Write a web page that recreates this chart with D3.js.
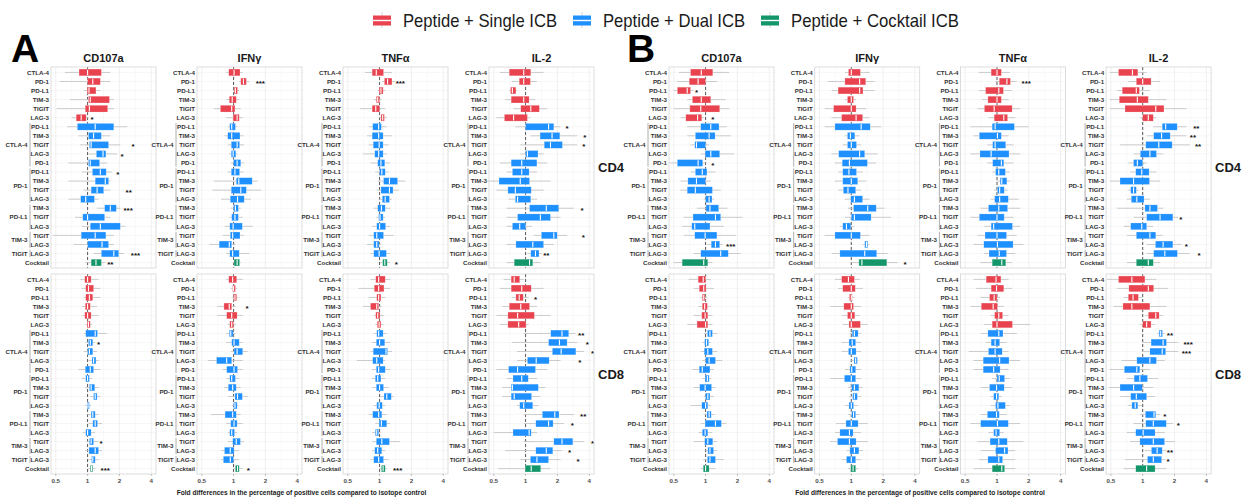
<!DOCTYPE html>
<html><head><meta charset="utf-8">
<script src="https://cdn.jsdelivr.net/npm/d3@7"></script>
<style>body{margin:0;background:#fff;}svg{display:block;}</style>
</head><body><svg id="chart" width="1251" height="498"></svg>
<script>
// ---------------- data ----------------
const figures = ["A", "B"];
const cells = ["CD4", "CD8"];
const markers = ["CD107a", "IFNγ", "TNFα", "IL-2"];
const markerKeys = ["CD107a", "IFNg", "TNFa", "IL2"];
const rowLabels = ["CTLA-4","PD-1","PD-L1","TIM-3","TIGIT","LAG-3",
  "PD-L1","TIM-3","TIGIT","LAG-3","PD-1",
  "PD-L1","TIM-3","TIGIT","LAG-3",
  "TIM-3","TIGIT","LAG-3",
  "TIGIT","LAG-3",
  "LAG-3","Cocktail"];
const rowTreatment = ["Single","Single","Single","Single","Single","Single",
  "Dual","Dual","Dual","Dual","Dual","Dual","Dual","Dual","Dual","Dual","Dual","Dual","Dual","Dual","Dual","Cocktail"];
const groupNames = ["CTLA-4", "PD-1", "PD-L1", "TIM-3", "TIGIT"];
const groupFirstRow = [6, 11, 15, 18, 20];
const groupLastRow = [10, 14, 17, 19, 20];
const xTicks = [0.5, 1, 2, 4];
const legendLabels = ["Peptide + Single ICB", "Peptide + Dual ICB", "Peptide + Cocktail ICB"];
const xTitle = "Fold differences in the percentage of positive cells compared to isotope control";

// each row: [lower whisker, Q1, median, Q3, upper whisker] (fold change)
const A_CD4_CD107a = [[0.61,0.83,1.00,1.35,1.64],[0.55,1.00,1.12,1.32,1.64],[0.92,0.99,1.03,1.20,1.32],[0.68,1.02,1.06,1.61,1.77],[0.51,0.95,1.04,1.55,1.77],[0.71,0.78,0.87,0.97,1.02],[0.64,0.80,1.18,1.77,2.37],[0.82,1.02,1.14,1.35,1.64],[0.85,1.04,1.08,1.58,2.04],[1.02,1.21,1.40,1.49,1.90],[0.66,1.02,1.06,1.30,1.53],[0.88,1.11,1.32,1.50,1.70],[0.66,1.18,1.47,1.58,1.64],[0.92,1.08,1.23,1.42,1.64],[0.66,0.86,0.96,1.16,1.27],[1.23,1.45,1.64,1.87,2.04],[0.76,0.90,1.00,1.45,1.64],[0.88,1.06,1.32,2.04,2.28],[0.47,0.87,1.18,1.49,1.77],[0.74,1.00,1.37,1.58,1.77],[1.14,1.35,1.77,1.97,2.20],[0.95,1.08,1.20,1.35,1.47]];
const A_CD8_CD107a = [[0.85,0.94,1.00,1.08,1.27],[0.88,0.96,1.02,1.14,1.32],[0.92,0.96,1.04,1.12,1.32],[0.88,0.95,1.00,1.06,1.23],[0.88,0.94,1.00,1.08,1.27],[0.95,0.99,1.02,1.06,1.10],[0.92,0.96,1.18,1.24,1.53],[0.95,1.02,1.06,1.12,1.18],[0.92,1.00,1.04,1.12,1.23],[1.02,1.10,1.14,1.20,1.27],[0.82,0.95,1.06,1.14,1.32],[0.88,0.96,1.00,1.04,1.10],[0.95,1.04,1.08,1.17,1.27],[1.06,1.14,1.18,1.23,1.32],[0.95,0.99,1.01,1.04,1.08],[1.00,1.08,1.12,1.18,1.27],[1.02,1.12,1.18,1.24,1.37],[0.90,0.96,1.00,1.08,1.18],[0.97,1.04,1.08,1.14,1.27],[0.95,1.03,1.18,1.27,1.37],[1.02,1.09,1.12,1.18,1.27],[1.02,1.06,1.09,1.12,1.18]];
const A_CD4_IFNg = [[0.85,0.90,1.01,1.15,1.22],[1.13,1.17,1.24,1.32,1.41],[0.98,1.01,1.04,1.09,1.13],[0.85,0.91,0.97,1.06,1.13],[0.65,0.75,0.96,1.03,1.17],[0.85,0.99,1.08,1.13,1.22],[0.88,0.92,0.96,1.04,1.09],[0.82,0.88,0.96,1.15,1.24],[0.88,0.95,1.08,1.14,1.26],[0.91,0.95,0.99,1.05,1.09],[0.94,1.00,1.08,1.17,1.26],[0.88,0.95,1.03,1.14,1.24],[0.65,1.06,1.12,1.50,1.69],[0.63,0.95,1.17,1.32,1.82],[0.76,0.93,1.09,1.26,1.46],[0.94,1.00,1.04,1.11,1.17],[0.91,0.96,1.03,1.11,1.22],[0.82,0.92,0.99,1.21,1.52],[0.79,0.93,0.98,1.15,1.26],[0.59,0.73,0.91,0.96,1.05],[0.85,0.92,0.98,1.13,1.41],[0.98,1.01,1.08,1.14,1.17]];
const A_CD8_IFNg = [[0.85,0.90,0.98,1.07,1.22],[0.94,0.98,1.00,1.04,1.08],[0.96,1.00,1.03,1.07,1.11],[0.70,0.81,0.91,0.96,1.05],[0.70,0.86,0.96,1.08,1.22],[0.88,0.92,0.96,1.00,1.05],[0.85,0.91,0.94,0.99,1.05],[0.85,0.96,1.01,1.13,1.22],[0.94,1.01,1.08,1.22,1.36],[0.57,0.69,0.86,0.96,1.22],[0.79,0.86,1.01,1.09,1.22],[0.85,0.92,0.96,1.04,1.13],[0.82,0.89,0.98,1.06,1.17],[0.88,1.03,1.09,1.21,1.36],[0.96,1.00,1.03,1.08,1.11],[0.61,0.83,0.98,1.06,1.17],[0.85,0.94,1.01,1.08,1.22],[0.88,0.92,0.96,1.02,1.08],[0.88,0.98,1.06,1.16,1.26],[0.76,0.82,0.93,1.01,1.13],[0.76,0.80,0.93,1.00,1.13],[1.01,1.04,1.09,1.13,1.22]];
const A_CD4_TNFa = [[0.73,0.85,0.93,1.09,1.31],[1.05,1.11,1.19,1.31,1.41],[0.96,0.99,1.03,1.08,1.13],[0.88,0.93,0.96,1.00,1.05],[0.65,0.85,0.92,1.00,1.13],[0.98,1.03,1.07,1.11,1.17],[0.79,0.86,0.98,1.04,1.17],[0.76,0.85,0.98,1.08,1.31],[0.79,0.87,0.99,1.08,1.22],[0.70,0.90,0.98,1.08,1.17],[0.82,0.96,1.03,1.12,1.26],[0.91,1.00,1.05,1.13,1.22],[0.96,1.09,1.24,1.48,1.75],[0.94,1.03,1.24,1.34,1.52],[0.98,1.06,1.13,1.24,1.31],[0.88,0.96,1.04,1.13,1.26],[0.93,0.98,1.01,1.08,1.13],[0.85,0.94,1.00,1.14,1.26],[0.79,0.88,0.94,1.09,1.36],[0.76,0.88,0.94,0.99,1.03],[0.82,0.88,0.99,1.16,1.26],[1.01,1.07,1.12,1.18,1.26]];
const A_CD8_TNFa = [[0.82,0.92,0.98,1.13,1.26],[0.63,0.89,0.98,1.10,1.26],[0.79,0.94,0.98,1.03,1.13],[0.70,0.82,0.94,0.98,1.05],[0.88,0.92,0.96,1.01,1.09],[0.91,0.95,0.99,1.03,1.09],[0.88,0.94,0.98,1.08,1.17],[0.85,0.93,1.00,1.12,1.26],[0.82,0.87,1.15,1.19,1.31],[0.61,0.86,0.94,1.08,1.13],[0.85,0.93,0.98,1.13,1.26],[0.85,0.91,0.96,1.03,1.13],[0.85,0.93,1.00,1.09,1.22],[1.01,1.10,1.17,1.29,1.36],[0.88,0.94,0.99,1.06,1.13],[0.79,0.86,0.98,1.05,1.17],[0.91,0.99,1.04,1.17,1.26],[0.85,0.91,0.94,0.98,1.03],[0.85,0.93,1.05,1.24,1.57],[0.85,0.90,0.96,1.05,1.13],[0.82,0.88,0.98,1.09,1.22],[1.00,1.04,1.08,1.13,1.17]];
const A_CD4_IL2 = [[0.57,0.70,0.96,1.12,1.48],[0.74,0.87,0.96,1.11,1.28],[0.70,0.72,0.75,0.81,0.83],[0.64,0.73,0.96,1.08,1.24],[0.77,0.90,1.12,1.35,1.60],[0.53,0.63,0.77,1.04,1.11],[0.80,1.00,1.65,1.85,2.14],[1.11,1.37,1.78,2.11,3.07],[0.89,1.50,1.72,2.23,3.07],[0.89,1.00,1.04,1.31,1.48],[0.57,0.73,0.92,1.28,1.60],[0.66,0.75,0.92,1.08,1.28],[0.43,0.56,0.89,1.09,1.72],[0.53,0.68,0.80,1.13,1.48],[0.69,0.80,0.84,1.12,1.28],[0.66,1.09,1.57,2.06,2.86],[0.66,0.84,1.38,1.72,2.14],[0.66,0.75,0.88,1.00,1.15],[1.19,1.41,1.85,1.99,2.47],[0.66,0.81,1.17,1.48,1.85],[1.04,1.12,1.24,1.34,1.43],[0.66,0.78,1.09,1.17,1.38]];
const A_CD8_IL2 = [[0.62,0.73,0.78,0.88,0.96],[0.57,0.73,0.92,1.13,1.48],[0.74,0.81,0.87,0.95,1.07],[0.60,0.70,0.90,1.09,1.28],[0.53,0.68,0.84,1.21,1.72],[0.57,0.68,0.86,1.01,1.07],[0.96,1.73,2.21,2.56,2.96],[0.74,1.65,2.09,2.47,3.07],[0.83,1.79,2.17,2.99,3.56],[0.83,1.04,1.26,1.67,2.14],[0.53,0.69,0.84,1.24,1.60],[0.66,0.76,0.92,1.06,1.28],[0.60,0.73,0.75,1.32,1.54],[0.60,0.73,0.78,1.14,1.38],[0.83,0.88,0.96,1.17,1.33],[0.96,1.44,1.89,2.07,2.86],[0.96,1.25,1.65,1.82,2.30],[0.50,0.76,1.08,1.13,1.28],[0.96,1.85,2.21,2.80,3.56],[0.64,1.25,1.57,1.81,2.21],[0.89,1.11,1.28,1.65,2.14],[0.55,0.99,1.13,1.39,1.72]];
const B_CD4_CD107a = [[0.56,0.72,0.91,1.17,1.67],[0.54,0.70,0.85,1.00,1.29],[0.50,0.54,0.67,0.72,0.77],[0.67,0.75,0.91,1.12,1.55],[0.50,0.71,0.90,1.36,1.67],[0.58,0.65,0.84,0.92,0.96],[0.67,0.90,1.12,1.34,1.58],[0.67,0.80,1.08,1.23,1.73],[0.72,0.79,0.82,1.00,1.08],[0.90,0.99,1.12,1.36,1.86],[0.46,0.54,0.85,0.94,1.00],[0.72,0.80,0.93,1.03,1.24],[0.58,0.68,0.82,1.00,1.12],[0.58,0.67,0.80,1.16,1.39],[0.96,1.00,1.08,1.15,1.20],[0.83,1.01,1.10,1.33,1.61],[0.62,0.76,1.24,1.39,2.23],[0.60,0.74,0.79,1.10,1.49],[0.62,0.79,0.99,1.28,1.93],[1.04,1.13,1.24,1.36,1.44],[0.77,0.90,1.39,1.64,2.15],[0.50,0.60,0.96,1.05,1.16]];
const B_CD8_CD107a = [[0.69,0.85,0.95,1.00,1.12],[0.77,0.87,0.96,1.01,1.20],[0.90,0.93,0.96,0.99,1.04],[0.86,0.93,0.98,1.04,1.12],[0.77,0.92,0.99,1.05,1.16],[0.67,0.83,1.00,1.05,1.16],[0.96,1.04,1.10,1.16,1.29],[0.93,0.98,1.02,1.07,1.12],[0.90,0.97,1.05,1.16,1.29],[0.93,1.00,1.08,1.24,1.44],[0.75,0.87,0.93,1.10,1.20],[0.93,0.99,1.04,1.08,1.13],[0.77,0.88,0.99,1.14,1.24],[0.96,1.00,1.05,1.10,1.20],[0.72,0.92,1.00,1.05,1.12],[0.96,1.03,1.08,1.13,1.22],[0.90,0.99,1.24,1.41,1.58],[0.86,0.93,0.99,1.05,1.16],[0.77,0.98,1.05,1.17,1.29],[1.00,1.05,1.10,1.19,1.29],[0.95,1.04,1.10,1.24,1.49],[0.90,0.95,1.00,1.08,1.24]];
const B_CD4_IFNg = [[0.87,0.94,1.00,1.22,1.49],[0.60,0.87,1.20,1.37,1.66],[0.65,0.75,1.20,1.29,1.66],[0.87,0.92,1.00,1.05,1.11],[0.56,0.68,1.00,1.11,1.38],[0.65,0.81,1.11,1.28,1.49],[0.56,0.70,1.24,1.51,1.92],[0.87,0.92,0.98,1.08,1.20],[0.83,0.92,1.00,1.12,1.24],[0.65,0.76,1.20,1.34,1.78],[0.70,0.82,0.96,1.42,1.72],[0.75,0.83,0.95,1.12,1.29],[0.70,0.83,1.00,1.15,1.38],[0.75,0.84,0.93,1.10,1.24],[0.87,0.99,1.07,1.28,1.49],[0.93,1.05,1.43,1.72,2.06],[0.87,1.00,1.07,1.54,2.38],[0.78,0.83,0.90,0.99,1.07],[0.56,0.70,1.00,1.22,1.49],[1.29,1.34,1.39,1.43,1.49],[0.65,0.78,1.34,1.74,2.21],[1.00,1.18,1.26,2.17,2.75]];
const B_CD8_IFNg = [[0.70,0.81,0.94,1.07,1.20],[0.75,0.83,1.00,1.09,1.29],[0.93,0.96,1.00,1.02,1.07],[0.63,0.85,1.00,1.05,1.24],[0.81,0.92,1.00,1.08,1.20],[0.83,0.95,1.00,1.22,1.43],[0.96,1.02,1.07,1.16,1.24],[0.81,0.95,1.02,1.10,1.24],[0.81,0.94,1.00,1.11,1.24],[1.00,1.06,1.10,1.14,1.17],[0.87,0.97,1.01,1.10,1.24],[0.63,0.86,1.00,1.10,1.24],[0.93,1.01,1.07,1.18,1.29],[0.96,1.03,1.07,1.14,1.24],[0.87,0.95,1.00,1.05,1.16],[0.93,1.01,1.05,1.10,1.20],[0.72,0.89,1.00,1.16,1.43],[0.70,0.78,0.96,1.04,1.24],[0.63,0.74,0.96,1.11,1.43],[0.90,0.97,1.07,1.18,1.29],[0.81,0.90,1.00,1.10,1.24],[0.93,0.99,1.04,1.10,1.16]];
const B_CD4_TNFa = [[0.67,0.88,1.00,1.10,1.33],[0.96,1.05,1.24,1.34,1.54],[0.67,0.78,1.04,1.15,1.38],[0.72,0.82,1.00,1.10,1.29],[0.65,0.76,0.94,1.39,1.66],[0.83,0.94,1.16,1.26,1.49],[0.56,0.90,0.96,1.46,1.99],[0.60,0.68,1.01,1.10,1.29],[0.81,0.91,0.96,1.21,1.43],[0.56,0.69,0.88,1.30,1.66],[0.81,0.91,1.10,1.16,1.43],[0.90,0.97,1.04,1.20,1.33],[1.00,1.07,1.11,1.24,1.33],[0.94,1.01,1.06,1.17,1.26],[0.87,0.95,1.06,1.28,1.60],[0.70,0.83,1.04,1.26,1.66],[0.56,0.68,1.00,1.17,1.43],[0.75,0.88,0.93,1.40,1.66],[0.65,0.77,1.00,1.23,1.54],[0.60,0.75,1.01,1.42,1.78],[0.75,0.84,1.05,1.23,1.49],[0.70,0.90,1.11,1.21,1.38]];
const B_CD8_TNFa = [[0.60,0.79,0.98,1.09,1.29],[0.63,0.88,0.99,1.16,1.38],[0.70,0.85,0.94,1.00,1.07],[0.56,0.71,0.92,1.01,1.16],[0.87,0.95,1.04,1.13,1.29],[0.75,0.90,1.00,1.40,2.06],[0.70,0.82,1.04,1.14,1.54],[0.78,0.88,0.96,1.06,1.24],[0.54,0.83,0.96,1.12,1.29],[0.60,0.74,1.06,1.30,1.66],[0.60,0.74,0.93,1.07,1.29],[0.90,1.00,1.05,1.18,1.33],[0.70,0.85,0.99,1.17,1.38],[0.87,0.93,0.99,1.04,1.11],[0.87,0.97,1.02,1.20,1.33],[0.70,0.81,0.99,1.05,1.24],[0.56,0.70,1.01,1.28,1.66],[0.83,0.93,0.98,1.06,1.16],[0.65,0.86,1.04,1.25,1.78],[0.70,0.97,1.18,1.27,1.49],[0.67,0.82,1.04,1.13,1.49],[0.60,0.90,1.11,1.18,1.49]];
const B_CD4_IL2 = [[0.49,0.59,0.80,0.90,1.09],[0.73,0.87,1.00,1.20,1.46],[0.57,0.64,0.87,0.93,1.17],[0.49,0.60,0.89,1.13,1.68],[0.49,0.68,1.33,1.59,2.59],[0.94,1.00,1.13,1.26,1.35],[1.26,1.53,1.65,2.12,2.59],[1.09,1.27,1.51,1.82,2.59],[0.61,1.07,1.42,1.90,2.79],[0.82,0.95,1.17,1.35,1.56],[0.73,0.82,0.89,1.00,1.09],[0.76,0.86,0.98,1.15,1.35],[0.49,0.61,0.82,1.16,1.46],[0.73,0.77,0.82,0.87,0.91],[0.71,0.78,0.88,1.03,1.17],[0.57,1.05,1.17,1.38,1.56],[0.82,1.09,1.46,1.93,2.17],[0.66,0.77,0.98,1.09,1.26],[0.71,0.87,1.17,1.33,1.56],[1.09,1.32,1.56,1.93,2.33],[1.09,1.27,1.62,2.13,2.79],[0.71,0.87,1.13,1.26,1.46]];
const B_CD8_IL2 = [[0.46,0.59,0.79,1.05,1.35],[0.57,0.74,1.13,1.27,1.74],[0.66,0.73,0.81,0.91,0.98],[0.53,0.65,0.79,1.17,1.68],[1.05,1.13,1.33,1.43,1.56],[0.94,1.00,1.09,1.20,1.31],[1.37,1.43,1.48,1.54,1.62],[1.01,1.20,1.56,1.68,2.17],[0.98,1.17,1.53,1.65,2.17],[0.63,0.88,1.17,1.35,1.62],[0.49,0.67,0.88,0.94,1.17],[0.71,0.83,0.94,1.11,1.40],[0.48,0.61,0.82,0.99,1.26],[0.61,0.77,0.87,1.09,1.31],[0.73,0.79,0.85,0.90,0.98],[0.94,1.06,1.28,1.33,1.46],[0.82,1.07,1.26,1.67,1.94],[0.71,0.86,1.01,1.31,1.62],[0.76,0.94,1.26,1.61,2.01],[1.05,1.21,1.37,1.53,1.68],[0.68,1.11,1.26,1.51,1.62],[0.66,0.86,1.09,1.31,1.68]];

// significance marks: [figure, cell, marker key, row, label, fold position]
const significance = [
  ["A","CD4","CD107a",5,"*",1.10],["A","CD4","CD107a",8,"*",2.70],["A","CD4","CD107a",9,"*",2.12],["A","CD4","CD107a",11,"*",1.93],
  ["A","CD4","CD107a",13,"**",2.45],["A","CD4","CD107a",15,"***",2.42],["A","CD4","CD107a",20,"***",2.84],["A","CD4","CD107a",21,"**",1.64],
  ["A","CD8","CD107a",7,"*",1.27],["A","CD8","CD107a",18,"*",1.34],["A","CD8","CD107a",21,"***",1.47],
  ["A","CD4","IFNg",1,"***",1.79],
  ["A","CD8","IFNg",3,"*",1.34],["A","CD8","IFNg",21,"*",1.38],
  ["A","CD4","TNFa",1,"***",1.57],["A","CD4","TNFa",21,"*",1.44],
  ["A","CD8","TNFa",21,"***",1.48],
  ["A","CD4","IL2",6,"*",2.47],["A","CD4","IL2",7,"*",3.64],["A","CD4","IL2",8,"*",3.56],["A","CD4","IL2",15,"*",3.43],
  ["A","CD4","IL2",18,"*",3.51],["A","CD4","IL2",20,"**",1.57],
  ["A","CD8","IL2",2,"*",1.24],["A","CD8","IL2",6,"**",3.36],["A","CD8","IL2",7,"*",3.83],["A","CD8","IL2",8,"*",4.3],
  ["A","CD8","IL2",9,"*",3.26],["A","CD8","IL2",15,"**",3.51],["A","CD8","IL2",16,"*",2.76],["A","CD8","IL2",18,"*",4.3],
  ["A","CD8","IL2",19,"*",2.60],["A","CD8","IL2",20,"*",3.14],
  ["B","CD4","CD107a",2,"*",0.82],["B","CD4","CD107a",5,"*",1.17],["B","CD4","CD107a",10,"*",1.17],["B","CD4","CD107a",19,"***",1.73],
  ["B","CD4","IFNg",21,"*",3.22],
  ["B","CD4","TNFa",1,"***",1.89],
  ["B","CD4","IL2",6,"**",3.22],["B","CD4","IL2",7,"**",2.99],["B","CD4","IL2",8,"**",3.34],["B","CD4","IL2",16,"*",2.30],
  ["B","CD4","IL2",19,"*",2.59],["B","CD4","IL2",20,"*",3.42],
  ["B","CD8","IL2",6,"**",1.81],["B","CD8","IL2",7,"***",2.69],["B","CD8","IL2",8,"***",2.59],["B","CD8","IL2",15,"*",1.62],
  ["B","CD8","IL2",16,"*",2.17],["B","CD8","IL2",19,"**",1.81],["B","CD8","IL2",20,"*",1.74]
];

// ---------------- layout / style ----------------
const W = 1251, H = 498;
const FONT = '"Liberation Sans", Arial, Helvetica, sans-serif';
const colors = { Single: "#e8434f", Dual: "#1e90ff", Cocktail: "#12966a" };
const panelW = 105;
const figStart = { A: 51, B: 669 };
const figStep = { A: 146, B: 145.7 };
const cellTop = { CD4: 67, CD8: 274 };
const cellBottom = { CD4: 268, CD8: 474 };
const xTitleCenter = { A: 301.5, B: 920 };
const letterX = { A: 11, B: 627 };

const dataTable = { A_CD4_CD107a, A_CD8_CD107a, A_CD4_IFNg, A_CD8_IFNg, A_CD4_TNFa, A_CD8_TNFa, A_CD4_IL2, A_CD8_IL2,
  B_CD4_CD107a, B_CD8_CD107a, B_CD4_IFNg, B_CD8_IFNg, B_CD4_TNFa, B_CD8_TNFa, B_CD4_IL2, B_CD8_IL2 };

const svg = d3.select("#chart").style("font-family", FONT);
svg.append("rect").attr("width", W).attr("height", H).attr("fill", "#fff");

// legend
const legendKeyX = [373, 573, 761];
const legendTextW = [154, 142, 168];
const legendCols = [colors.Single, colors.Dual, colors.Cocktail];
const lg = svg.append("g");
legendLabels.forEach((lab, i) => {
  const kx = legendKeyX[i];
  lg.append("line").attr("x1", kx + 9).attr("x2", kx + 9).attr("y1", 12).attr("y2", 28)
    .attr("stroke", "#c8c8c8").attr("stroke-width", 0.8);
  lg.append("rect").attr("x", kx).attr("y", 15.5).attr("width", 18).attr("height", 10)
    .attr("fill", legendCols[i]);
  lg.append("line").attr("x1", kx).attr("x2", kx + 18).attr("y1", 20.5).attr("y2", 20.5)
    .attr("stroke", "#fff").attr("stroke-width", 1.4);
  lg.append("text").attr("x", kx + 30).attr("y", 26.5).attr("font-size", 19)
    .attr("textLength", legendTextW[i]).attr("lengthAdjust", "spacingAndGlyphs")
    .attr("fill", "#1a1a1a").text(lab);
});

const logDomain = [0.5 * Math.pow(2, -0.15), 4 * Math.pow(2, 0.15)];
const minorTicks = [Math.SQRT1_2, Math.SQRT2, 2 * Math.SQRT2];

figures.forEach(fig => {
  svg.append("text").attr("x", letterX[fig]).attr("y", 62).attr("font-size", 39)
    .attr("font-weight", "bold").attr("fill", "#000").text(fig);

  svg.append("text").attr("x", xTitleCenter[fig]).attr("y", 494.5).attr("text-anchor", "middle")
    .attr("font-size", 6.6).attr("font-weight", "bold").attr("fill", "#1a1a1a").text(xTitle);

  markers.forEach((marker, mi) => {
    const left = figStart[fig] + mi * figStep[fig];
    const x = d3.scaleLog().domain(logDomain).range([left, left + panelW]);

    cells.forEach(cell => {
      const top = cellTop[cell], bottom = cellBottom[cell];
      const y = d3.scalePoint().domain(d3.range(rowLabels.length)).range([top, bottom]).padding(0.6);
      const step = y.step();
      const bh = step * 0.75;
      const data = dataTable[`${fig}_${cell}_${markerKeys[mi]}`];
      const g = svg.append("g");

      g.append("rect").attr("x", left).attr("y", top).attr("width", panelW).attr("height", bottom - top)
        .attr("fill", "#fff");
      // grid
      g.selectAll(".hg").data(d3.range(rowLabels.length)).join("line")
        .attr("x1", left).attr("x2", left + panelW).attr("y1", d => y(d)).attr("y2", d => y(d))
        .attr("stroke", "#efefef").attr("stroke-width", 0.5);
      g.selectAll(".mg").data(minorTicks).join("line")
        .attr("x1", d => x(d)).attr("x2", d => x(d)).attr("y1", top).attr("y2", bottom)
        .attr("stroke", "#f2f2f2").attr("stroke-width", 0.5);
      g.selectAll(".vg").data(xTicks).join("line")
        .attr("x1", d => x(d)).attr("x2", d => x(d)).attr("y1", top).attr("y2", bottom)
        .attr("stroke", "#e6e6e6").attr("stroke-width", 0.6);
      // reference line at 1
      g.append("line").attr("x1", x(1)).attr("x2", x(1)).attr("y1", top).attr("y2", bottom)
        .attr("stroke", "#4a4a4a").attr("stroke-width", 0.9).attr("stroke-dasharray", "3,2");

      // whiskers
      g.selectAll(".wh").data(data).join("line")
        .attr("x1", d => x(d[0])).attr("x2", d => x(d[4]))
        .attr("y1", (d, i) => y(i)).attr("y2", (d, i) => y(i))
        .attr("stroke", "#c6c6c6").attr("stroke-width", 0.9);
      // boxes
      g.selectAll(".bx").data(data).join("rect")
        .attr("x", d => x(d[1])).attr("width", d => Math.max(1, x(d[3]) - x(d[1])))
        .attr("y", (d, i) => y(i) - bh / 2).attr("height", bh)
        .attr("fill", (d, i) => colors[rowTreatment[i]])
        .attr("stroke", "#ffffff").attr("stroke-opacity", 0.45).attr("stroke-width", 0.5);
      // medians
      g.selectAll(".md").data(data).join("line")
        .attr("x1", d => x(d[2])).attr("x2", d => x(d[2]))
        .attr("y1", (d, i) => y(i) - bh / 2 + 0.6).attr("y2", (d, i) => y(i) + bh / 2 - 0.6)
        .attr("stroke", "#fff").attr("stroke-width", 1.1);

      // significance
      const sig = significance.filter(s => s[0] === fig && s[1] === cell && s[2] === markerKeys[mi]);
      g.selectAll(".sg").data(sig).join("text")
        .attr("x", d => x(d[5])).attr("y", d => y(d[3]) + 4.6)
        .attr("text-anchor", "middle").attr("font-size", 8).attr("font-weight", "bold")
        .attr("fill", "#111").text(d => d[4]);

      // border
      g.append("rect").attr("x", left).attr("y", top).attr("width", panelW).attr("height", bottom - top)
        .attr("fill", "none").attr("stroke", "#d4d4d4").attr("stroke-width", 0.8);

      // row labels
      g.selectAll(".rl").data(rowLabels).join("text")
        .attr("x", left - 2).attr("y", (d, i) => y(i) + 2.2)
        .attr("text-anchor", "end").attr("font-size", 6.2).attr("font-weight", "bold")
        .attr("fill", "#333").text(d => d);
      // group labels and brackets
      groupNames.forEach((gn, gi) => {
        const y0 = y(groupFirstRow[gi]), y1 = y(groupLastRow[gi]);
        g.append("line").attr("x1", left - 21).attr("x2", left - 21)
          .attr("y1", y0 - step * 0.4).attr("y2", y1 + step * 0.4)
          .attr("stroke", "#9a9a9a").attr("stroke-width", 0.8);
        g.append("text").attr("x", left - 23.5).attr("y", (y0 + y1) / 2 + 2.2)
          .attr("text-anchor", "end").attr("font-size", 6.2).attr("font-weight", "bold")
          .attr("fill", "#333").text(gn);
      });

      if (cell === "CD4") {
        svg.append("text").attr("x", left + panelW / 2).attr("y", 61.5).attr("text-anchor", "middle")
          .attr("font-size", 11).attr("font-weight", "bold").attr("fill", "#1a1a1a").text(marker);
      } else {
        const ax = svg.append("g");
        ax.selectAll("line").data(xTicks).join("line")
          .attr("x1", d => x(d)).attr("x2", d => x(d)).attr("y1", bottom).attr("y2", bottom + 2)
          .attr("stroke", "#9a9a9a").attr("stroke-width", 0.6);
        ax.selectAll("text").data(xTicks).join("text")
          .attr("x", d => x(d)).attr("y", bottom + 8.8).attr("text-anchor", "middle")
          .attr("font-size", 6.2).attr("font-weight", "bold").attr("fill", "#4d4d4d").text(d => d);
      }
      if (mi === markers.length - 1) {
        svg.append("text").attr("x", left + panelW + 4).attr("y", (top + bottom) / 2 + 4.7)
          .attr("font-size", 13).attr("font-weight", "bold").attr("fill", "#1a1a1a").text(cell);
      }
    });
  });
});
</script>
</body></html>
